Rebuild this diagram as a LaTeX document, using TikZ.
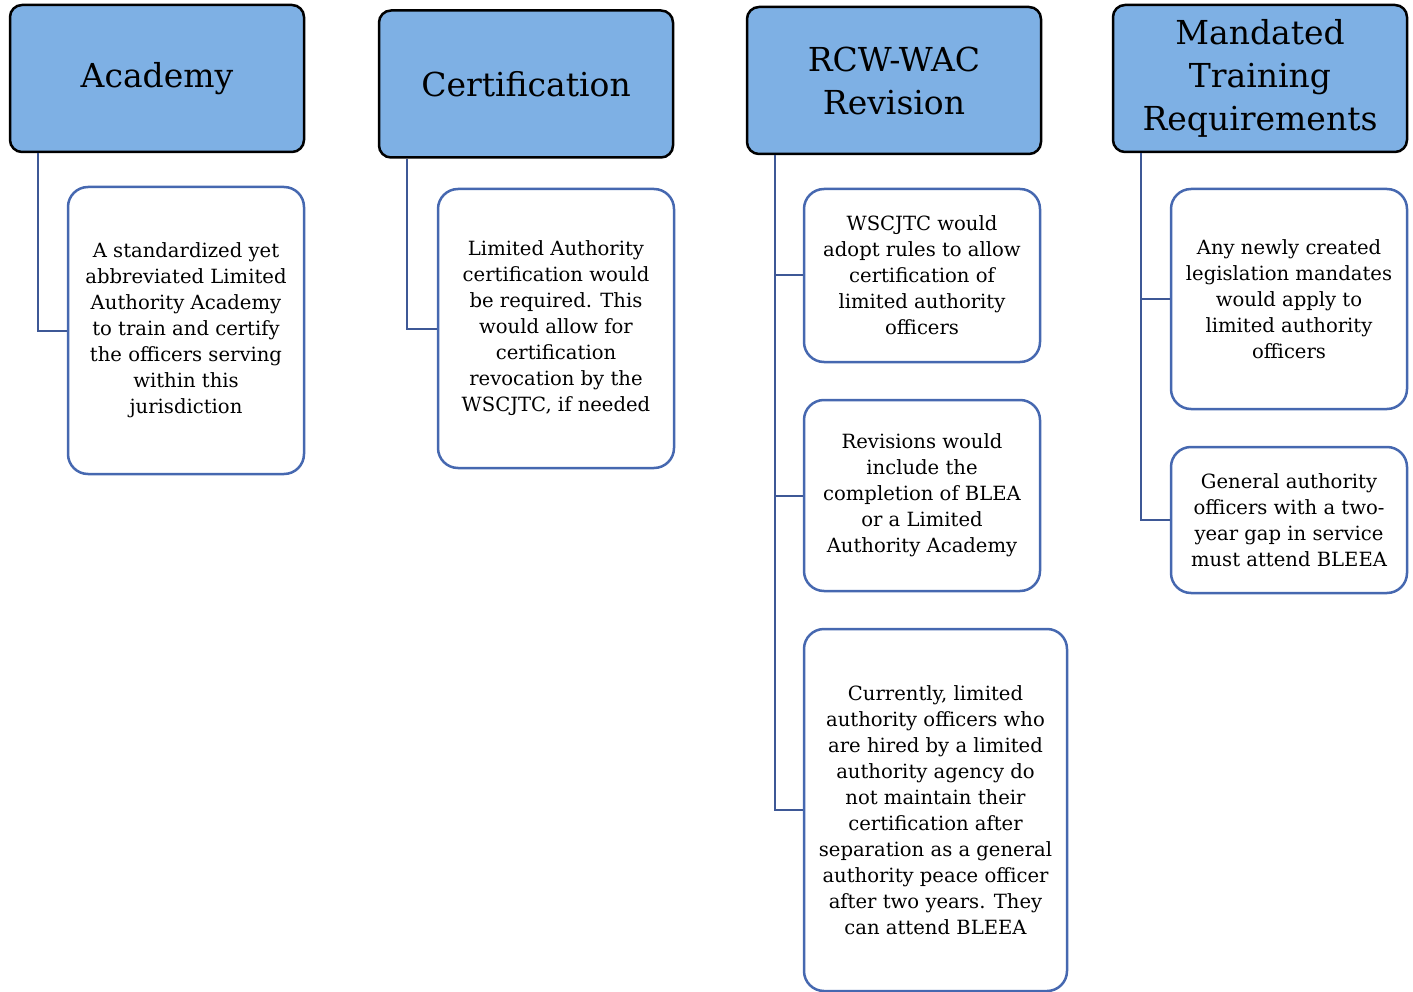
\documentclass[tikz,border=0pt]{standalone}
\usepackage{fontspec}
\setmainfont{DejaVu Serif}
\usetikzlibrary{positioning}
\definecolor{headfill}{RGB}{126,176,228}
\definecolor{boxline}{RGB}{70,104,176}
\definecolor{linkline}{RGB}{62,88,150}

\begin{document}
\begin{tikzpicture}[x=1pt,y=-1pt,
	head/.style={
		draw=black,
		line width=2.5pt,
		fill=headfill,
		rounded corners=12pt,
		minimum width=294pt,
		minimum height=147pt,
		inner sep=0pt,
		align=center,
		font=\fontsize{33}{43}\selectfont,
	},
	leaf/.style={
		draw=boxline,
		line width=2.5pt,
		fill=white,
		rounded corners=20pt,
		minimum width=236pt,
		inner sep=0pt,
		align=center,
		font=\fontsize{19.6}{26}\selectfont,
	},
	link/.style={draw=linkline,line width=2pt},
]
	\useasboundingbox (0,0) rectangle (1413,992);
	% top row
	\node[head] (hA) at (157,78.5) {Academy};
	\node[head] (hC) at (526,84) {Certification};
	\node[head] (hR) at (894,80.5) {RCW-WAC\\Revision};
	\node[head] (hM) at (1260,78.5) {Mandated\\Training\\Requirements};
	% boxes below
	\node[leaf,minimum height=287pt] (aA) at (186,330.5)
		{A standardized yet\\abbreviated Limited\\Authority Academy\\to train and certify\\the officers serving\\within this\\jurisdiction};
	\node[leaf,minimum height=279pt] (cA) at (556,328.5)
		{Limited Authority\\certification would\\be required. This\\would allow for\\certification\\revocation by the\\WSCJTC, if needed};
	\node[leaf,minimum height=173pt] (rA) at (922,275.5)
		{WSCJTC would\\adopt rules to allow\\certification of\\limited authority\\officers};
	\node[leaf,minimum height=191pt] (rB) at (922,495.5)
		{Revisions would\\include the\\completion of BLEA\\or a Limited\\Authority Academy};
	\node[leaf,minimum height=362pt,minimum width=263pt] (rC) at (935.5,810)
		{Currently, limited\\authority officers who\\are hired by a limited\\authority agency do\\not maintain their\\certification after\\separation as a general\\authority peace officer\\after two years. They\\can attend BLEEA};
	\node[leaf,minimum height=220pt] (mA) at (1289,299)
		{Any newly created\\legislation mandates\\would apply to\\limited authority\\officers};
	\node[leaf,minimum height=146pt] (mB) at (1289,520)
		{General authority\\officers with a two-\\year gap in service\\must attend BLEEA};
	% connectors
	\draw[link] ([xshift=29pt]hA.south west) |- (aA.west);
	\draw[link] ([xshift=29pt]hC.south west) |- (cA.west);
	\foreach \n in {rA,rB,rC}{
		\draw[link] ([xshift=29pt]hR.south west) |- (\n.west);
	}
	\foreach \n in {mA,mB}{
		\draw[link] ([xshift=29pt]hM.south west) |- (\n.west);
	}
\end{tikzpicture}
\end{document}
